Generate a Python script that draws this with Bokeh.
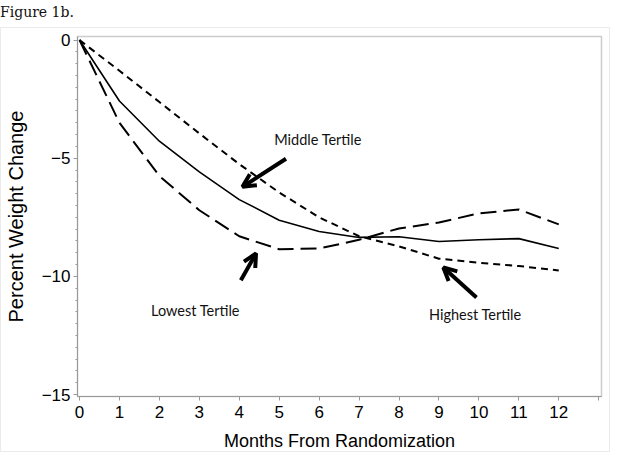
from bokeh.plotting import figure
from bokeh.models import (FixedTicker, Range1d, Arrow, OpenHead, Label, Div)
from bokeh.layouts import column
from bokeh.embed import file_html
from bokeh.resources import INLINE

# ---- data ----
months = [0, 1, 2, 3, 4, 5, 6, 7, 8, 9, 10, 11, 12]
middle_tertile = [0, -2.58, -4.28, -5.58, -6.75, -7.62, -8.10, -8.35, -8.32, -8.52, -8.45, -8.40, -8.82]
lowest_tertile = [0, -3.50, -5.75, -7.20, -8.30, -8.85, -8.82, -8.45, -7.97, -7.72, -7.33, -7.17, -7.80]
highest_tertile = [0, -1.30, -2.62, -3.95, -5.25, -6.45, -7.50, -8.30, -8.73, -9.25, -9.42, -9.56, -9.75]

x_ticks = [0, 1, 2, 3, 4, 5, 6, 7, 8, 9, 10, 11, 12, 13]
x_tick_labels = ["0", "1", "2", "3", "4", "5", "6", "7", "8", "9", "10", "11", "12", ""]
y_ticks = [-15, -10, -5, 0]
y_tick_labels = ["\u221215", "\u221210", "\u22125", "0"]
y_minor = [-15 + 0.5 * i for i in range(31)]

SANS = "Liberation Sans"
NOTE = "Lato"

title = Div(text="Figure 1b.", width=610, height=27, margin=(0, 0, 0, 0),
            styles={"font-family": "DejaVu Serif", "font-size": "14px",
                    "color": "#111", "padding-top": "2px"})

p = figure(width=610, height=425, output_backend="svg", toolbar_location=None,
           x_range=Range1d(-0.05, 13.07), y_range=Range1d(-15.08, 0.15),
           min_border_left=75, min_border_right=10, min_border_top=8,
           min_border_bottom=56, margin=(0, 0, 0, 0),
           styles={"border": "1px solid #ebebeb"})
p.xgrid.visible = False
p.ygrid.visible = False
p.outline_line_color = "#cccccc"
p.outline_line_width = 1.5

p.line(months, middle_tertile, line_color="black", line_width=1.6)
p.line(months, lowest_tertile, line_color="black", line_width=2, line_dash="16 7")
p.line(months, highest_tertile, line_color="black", line_width=2, line_dash="7 5")

# axes
xa = p.xaxis[0]
xa.ticker = FixedTicker(ticks=x_ticks, minor_ticks=[])
xa.major_label_overrides = {t: l for t, l in zip(x_ticks, x_tick_labels)}
xa.axis_label = "Months From Randomization"
ya = p.yaxis[0]
ya.ticker = FixedTicker(ticks=y_ticks, minor_ticks=y_minor)
ya.major_label_overrides = {t: l for t, l in zip(y_ticks, y_tick_labels)}
ya.axis_label = "Percent Weight Change"

for ax in (xa, ya):
    ax.axis_line_color = "#999999"
    ax.major_tick_line_color = "#999999"
    ax.minor_tick_line_color = "#999999"
    ax.major_tick_in = 0
    ax.major_tick_out = 4
    ax.minor_tick_in = 0
    ax.minor_tick_out = 2
    ax.major_label_text_font = SANS
    ax.major_label_text_font_size = "17px"
    ax.major_label_text_color = "black"
    ax.axis_label_text_font = SANS
    ax.axis_label_text_font_style = "normal"
    ax.axis_label_text_color = "black"
xa.axis_label_text_font_size = "18px"
ya.axis_label_text_font_size = "20px"
xa.major_label_standoff = 5
xa.axis_label_standoff = 10
ya.major_label_standoff = 3
ya.axis_label_standoff = 12

# annotations: arrows (tail -> head) and labels
arrows = [
    (5.17, -5.02, 4.08, -6.21),
    (4.04, -10.16, 4.42, -9.03),
    (9.94, -10.89, 9.11, -9.62),
]
for x0, y0, x1, y1 in arrows:
    p.add_layout(Arrow(x_start=x0, y_start=y0, x_end=x1, y_end=y1,
                       line_width=4, line_color="black",
                       end=OpenHead(size=13, line_width=4, line_color="black")))

labels = [
    ("Middle Tertile", 4.875, -4.22),
    ("Lowest Tertile", 1.79, -11.46),
    ("Highest Tertile", 8.75, -11.63),
]
for txt, lx, ly in labels:
    p.add_layout(Label(x=lx, y=ly, text=txt, text_font=NOTE, text_font_size="14.5px",
                       text_color="#111111", text_baseline="middle", text_align="left"))

layout = column(title, p, margin=(0, 0, 0, 0))
open("out.html", "w").write(file_html(layout, INLINE))
